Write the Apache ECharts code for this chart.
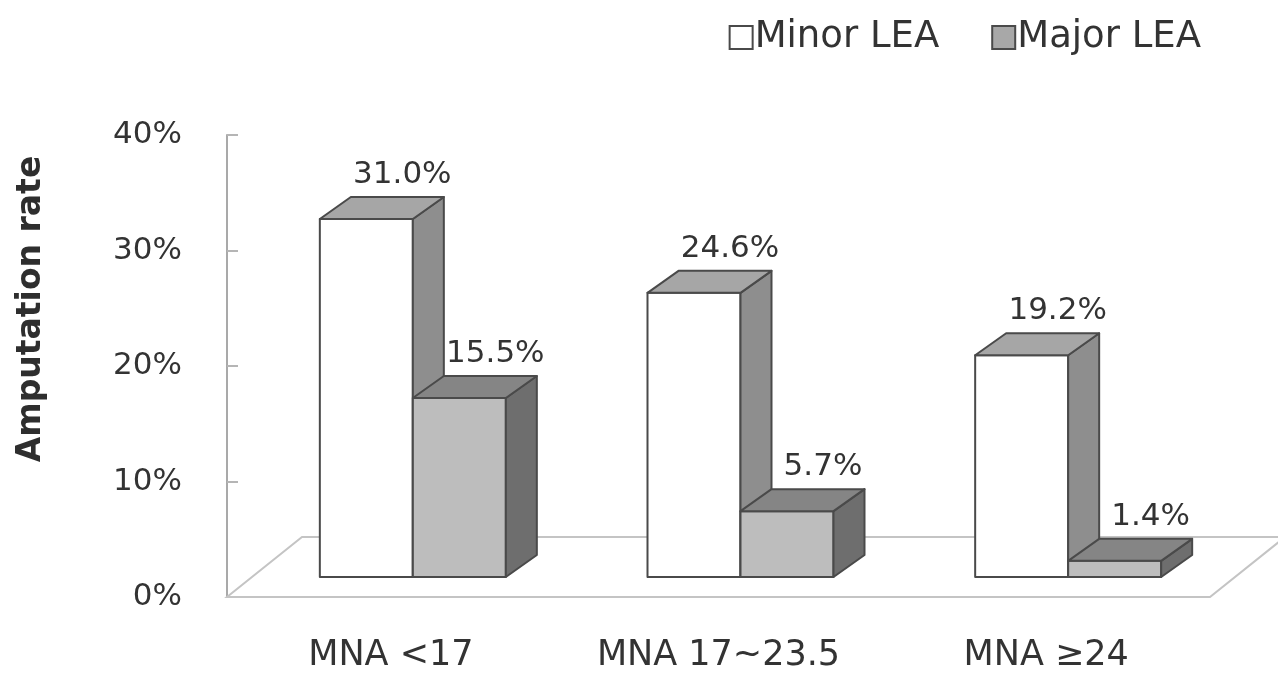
<!DOCTYPE html>
<html>
<head>
<meta charset="utf-8">
<script src="https://cdn.jsdelivr.net/npm/echarts@6/dist/echarts.min.js"></script>
<style>
  html, body { margin: 0; padding: 0; background: #fff; }
  #chart { width: 1278px; height: 675px; }
</style>
</head>
<body>
<div id="chart"></div>
<script>
// Amputation rate by MNA group
const categories = ['MNA <17', 'MNA 17~23.5', 'MNA \u226524'];
const minorLEA = [31.0, 24.6, 19.2];
const majorLEA = [15.5, 5.7, 1.4];
const seriesNames = ['Minor LEA', 'Major LEA'];
const yTicks = { min: 0, max: 40, interval: 10 };

const FONT = '"DejaVu Sans", Verdana, sans-serif';
const TEXT = '#333333';
const EDGE = '#4a4a4a';

// oblique projection: bars sit a little behind the front edge of the floor
const PLANE_DX = 22, PLANE_DY = -20;   // front face of bars relative to front plane
const DEPTH_DX = 31, DEPTH_DY = -22;   // bar depth
const FLOOR_DX = 75, FLOOR_DY = -60;   // full floor depth
const BAR_W = 93;

const palettes = [
  { front: '#ffffff', side: '#8e8e8e', top: '#a6a6a6' },
  { front: '#bdbdbd', side: '#6e6e6e', top: '#858585' }
];

function barRenderer(seriesIdx) {
  return function (params, api) {
    const idx = api.value(0), v = api.value(1);
    const base = api.coord([idx, 0]);
    const top = api.coord([idx, v]);
    const x0 = base[0] + PLANE_DX + (seriesIdx === 0 ? -BAR_W : 0);
    const x1 = x0 + BAR_W;
    const yb = base[1] + PLANE_DY;
    const yt = top[1] + PLANE_DY;
    const c = palettes[seriesIdx];
    const st = (fill) => ({ fill: fill, stroke: EDGE, lineWidth: 2, lineJoin: 'round' });
    return {
      type: 'group',
      children: [
        { type: 'polygon', shape: { points: [[x0, yt], [x1, yt], [x1, yb], [x0, yb]] }, style: st(c.front) },
        { type: 'polygon', shape: { points: [[x1, yt], [x1 + DEPTH_DX, yt + DEPTH_DY], [x1 + DEPTH_DX, yb + DEPTH_DY], [x1, yb]] }, style: st(c.side) },
        { type: 'polygon', shape: { points: [[x0, yt], [x0 + DEPTH_DX, yt + DEPTH_DY], [x1 + DEPTH_DX, yt + DEPTH_DY], [x1, yt]] }, style: st(c.top) },
        {
          type: 'text',
          style: {
            x: (x0 + x1) / 2 + 36, y: yt - 44,
            text: v.toFixed(1) + '%',
            align: 'center', verticalAlign: 'middle',
            font: '31px ' + FONT, fill: TEXT
          }
        }
      ]
    };
  };
}

function floorRenderer(params, api) {
  const cs = params.coordSys;
  const xl = cs.x, xr = cs.x + cs.width, yb = cs.y + cs.height;
  return {
    type: 'polygon',
    silent: true,
    shape: { points: [[xl, yb], [xr, yb], [xr + FLOOR_DX, yb + FLOOR_DY], [xl + FLOOR_DX, yb + FLOOR_DY]] },
    style: { fill: '#ffffff', stroke: '#c4c4c4', lineWidth: 2 }
  };
}

const chart = echarts.init(document.getElementById('chart'), null, { renderer: 'canvas' });
chart.setOption({
  backgroundColor: '#ffffff',
  animation: false,
  grid: { left: 227, right: 68, top: 135, bottom: 78 },
  legend: {
    top: 14, right: 72,
    itemWidth: 23, itemHeight: 23, itemGap: 52,
    textStyle: { fontFamily: FONT, fontSize: 37, color: TEXT, padding: [0, 0, 0, -3] },
    data: [
      { name: seriesNames[0], icon: 'rect', itemStyle: { color: '#ffffff', borderColor: EDGE, borderWidth: 2 } },
      { name: seriesNames[1], icon: 'rect', itemStyle: { color: '#a8a8a8', borderColor: EDGE, borderWidth: 2 } }
    ]
  },
  xAxis: {
    type: 'category',
    data: categories,
    axisLine: { show: false },
    axisTick: { show: false },
    axisLabel: { margin: 41, fontFamily: FONT, fontSize: 35, color: TEXT }
  },
  yAxis: {
    type: 'value',
    min: yTicks.min, max: yTicks.max, interval: yTicks.interval,
    splitLine: { show: false },
    axisLine: { show: true, lineStyle: { color: '#a9a9a9', width: 2 } },
    axisTick: { show: true, inside: true, length: 11, lineStyle: { color: '#b5b5b5', width: 2 } },
    axisLabel: { margin: 45, fontFamily: FONT, fontSize: 31, color: TEXT, formatter: '{value}%' }
  },
  graphic: [{
    type: 'text',
    x: 31, y: 309,
    rotation: Math.PI / 2,
    style: {
      text: 'Amputation rate',
      font: 'bold 33px ' + FONT,
      fill: '#2e2e2e',
      align: 'center', verticalAlign: 'middle'
    }
  }],
  series: [
    {
      type: 'custom', name: 'floor', silent: true, clip: false,
      renderItem: floorRenderer,
      data: [[0, 0]],
      encode: { x: 0, y: 1 }
    },
    {
      type: 'custom', name: seriesNames[0], clip: false,
      renderItem: barRenderer(0),
      itemStyle: { color: '#ffffff' },
      data: minorLEA.map((v, i) => [i, v]),
      encode: { x: 0, y: 1 }
    },
    {
      type: 'custom', name: seriesNames[1], clip: false,
      renderItem: barRenderer(1),
      itemStyle: { color: '#a8a8a8' },
      data: majorLEA.map((v, i) => [i, v]),
      encode: { x: 0, y: 1 }
    }
  ]
});
</script>
</body>
</html>
